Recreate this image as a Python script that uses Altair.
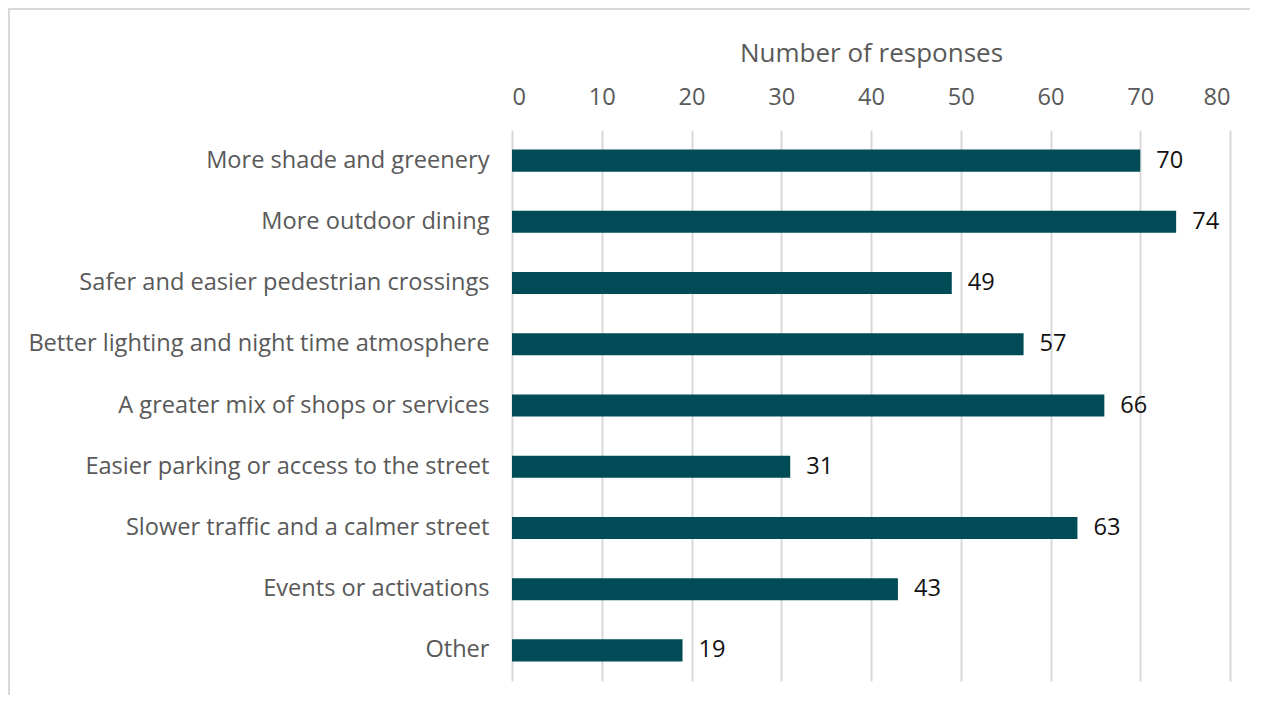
import altair as alt
import pandas as pd

categories = [
    "More shade and greenery",
    "More outdoor dining",
    "Safer and easier pedestrian crossings",
    "Better lighting and night time atmosphere",
    "A greater mix of shops or services",
    "Easier parking or access to the street",
    "Slower traffic and a calmer street",
    "Events or activations",
    "Other",
]
responses = [70, 74, 49, 57, 66, 31, 63, 43, 19]
x_ticks = [0, 10, 20, 30, 40, 50, 60, 70, 80]

df = pd.DataFrame({"category": categories, "responses": responses})

FONT = "Open Sans"
BAR = "#014B57"
GRID = "#D9D9D9"
TXT = "#595959"
FS = 23.6

W, H = 718, 551
PAD = {"left": 504, "top": 122, "right": 20, "bottom": 14}

base = alt.Chart(df)

y_enc = alt.Y(
    "category:N",
    sort=categories,
    title=None,
    scale=alt.Scale(paddingInner=0.64, paddingOuter=0.32),
    axis=alt.Axis(
        ticks=False,
        domain=False,
        labelPadding=23,
        labelFontSize=FS,
        labelColor=TXT,
        labelFont=FONT,
        labelLimit=600,
    ),
)

bars = base.mark_bar(color=BAR).encode(
    x=alt.X(
        "responses:Q",
        scale=alt.Scale(domain=[0, 80]),
        title="Number of responses",
        axis=alt.Axis(
            orient="top",
            values=x_ticks,
            ticks=False,
            domain=False,
            grid=True,
            gridColor=GRID,
            gridWidth=2,
            labelFontSize=FS,
            labelColor=TXT,
            labelFont=FONT,
            labelPadding=21,
            titleFontSize=26,
            titleFontWeight="normal",
            titleColor=TXT,
            titleFont=FONT,
            titlePadding=19,
        ),
    ),
    y=y_enc,
)

labels = base.mark_text(
    align="left", baseline="middle", dx=16, fontSize=FS, font=FONT, color="#111111"
).encode(
    x="responses:Q",
    y=alt.Y("category:N", sort=categories),
    text="responses:Q",
)

frame = pd.DataFrame({"b": [0]})
left_edge = alt.Chart(frame).mark_rule(color="#D9D9D9", strokeWidth=2).encode(
    x=alt.value(-503),
    y=alt.value(-122),
    y2=alt.value(H + PAD["bottom"]),
)
top_edge = alt.Chart(frame).mark_rule(color="#D9D9D9", strokeWidth=2).encode(
    x=alt.value(-504),
    x2=alt.value(W + PAD["right"]),
    y=alt.value(-121),
)

chart = (
    alt.layer(left_edge, top_edge, bars, labels)
    .properties(
        width=W,
        height=H,
        autosize=alt.AutoSizeParams(type="none"),
        padding=PAD,
    )
    .configure_view(stroke=None)
)

chart.save("out.html", embed_options={"renderer": "svg", "actions": False})
